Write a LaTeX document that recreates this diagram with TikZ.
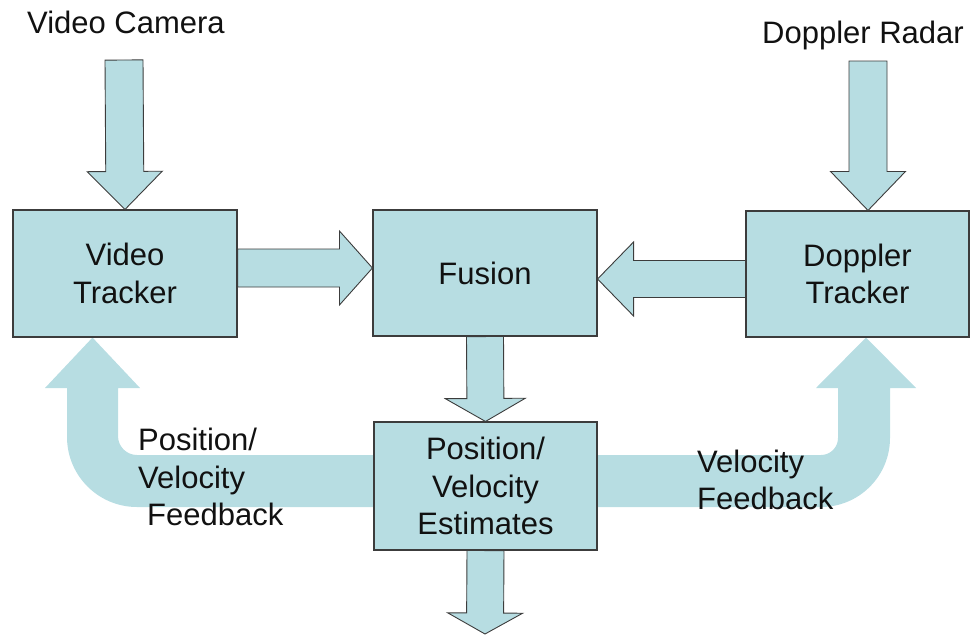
\documentclass[tikz,border=0pt]{standalone}
\usepackage{fontspec}
\setmainfont{Liberation Sans}
\usetikzlibrary{calc,backgrounds}

\definecolor{boxfill}{HTML}{B7DDE2}
\definecolor{edge}{HTML}{3C3C3C}
\definecolor{ink}{HTML}{111111}

\newcommand\lbl{\fontsize{31}{37.5}\selectfont}

% block arrow from #1 to #2: shaft half-width #3, head half-width #4, head length #5 (pt)
\newcommand\fatarrow[5]{%
  \coordinate (fa-h) at ($(#2)!#5!(#1)$);
  \draw[fatstyle] ($(#1)!#3!90:(#2)$) -- ($(fa-h)!#3!90:(#2)$) -- ($(fa-h)!#4!90:(#2)$)
    -- (#2) -- ($(fa-h)!#4!-90:(#2)$) -- ($(fa-h)!#3!-90:(#2)$) -- ($(#1)!#3!-90:(#2)$) -- cycle;
}

\begin{document}
\begin{tikzpicture}[x=1pt,y=-1pt,
  box/.style={draw=edge, line width=1.1pt, fill=boxfill, inner sep=0pt,
    align=center, font=\lbl, text=ink},
  fatstyle/.style={draw=edge, line width=0.9pt, fill=boxfill, line join=miter},
  loopfill/.style={fill=boxfill},
  caption/.style={font=\lbl, text=ink, inner sep=0pt}]

\useasboundingbox (0,0) rectangle (978,635);

% blocks
\node[box, minimum width=224pt, minimum height=127pt] (vt) at (125,273.5) {Video\\Tracker};
\node[box, minimum width=224pt, minimum height=126pt] (fu) at (485,273) {Fusion};
\node[box, minimum width=223pt, minimum height=126pt] (dt) at (857.5,274) {Doppler\\Tracker};
\node[box, minimum width=223pt, minimum height=128pt] (pe) at (485.5,486) {Position/\\Velocity\\Estimates};

% sensor labels
\node[caption] (cam) at (126,22) {Video Camera};
\node[caption] (rad) at (863,35) {Doppler Radar};

% feedback labels
\node[caption, align=left, anchor=west] (fbl) at (138,477) {Position/\\Velocity\\\hspace*{9pt}Feedback};
\node[caption, align=left, anchor=west] (fbr) at (697,480) {Velocity\\Feedback};

% feedback loops behind the estimate block
\begin{scope}[on background layer]
  \fill[loopfill] ($(pe.center)+(-60,-31)$) -- (137,455)
    arc[start angle=90, end angle=180, radius=19]
    -- (118,388) -- (140,388) -- (vt.south -| 92.5,0) -- (45,388) -- (67,388) -- (67,437)
    arc[start angle=180, end angle=90, radius=70]
    -- ($(pe.center)+(-60,21)$) -- cycle;
  \fill[loopfill] ($(pe.center)+(60,-31)$) -- (821,455)
    arc[start angle=90, end angle=0, radius=17]
    -- (838,388) -- (816,388) -- (dt.south -| 866,0) -- (916,388) -- (890,388) -- (890,438)
    arc[start angle=0, end angle=90, radius=69]
    -- ($(pe.center)+(60,21)$) -- cycle;
\end{scope}

% connector end points
\coordinate (camsrc) at (124,60);
\coordinate (radsrc) at (868,61);
\coordinate (radtip) at (dt.north -| radsrc);
\coordinate (vtout) at ($(vt.east)+(0,-5.5)$);
\coordinate (fuinl) at ($(fu.west)+(0,-5)$);
\coordinate (dtout) at ($(dt.east)+(0,5)$);
\coordinate (dtsrc) at (dtout -| dt.west);
\coordinate (fuinr) at (dtout -| fu.east);
\coordinate (vtsrc) at (vtout -| vt.east);
\coordinate (outtip) at (485,634);

% block arrows
\fatarrow{camsrc}{vt.north}{19pt}{37.5pt}{38pt}
\fatarrow{radsrc}{radtip}{19pt}{37.5pt}{39pt}
\fatarrow{vtsrc}{fuinl}{19pt}{37pt}{33pt}
\fatarrow{dtsrc}{fuinr}{18.5pt}{37pt}{36pt}
\fatarrow{fu.south}{pe.north}{18.5pt}{40pt}{23pt}
\fatarrow{pe.south}{outtip}{18.5pt}{37.5pt}{21pt}

\end{tikzpicture}
\end{document}
